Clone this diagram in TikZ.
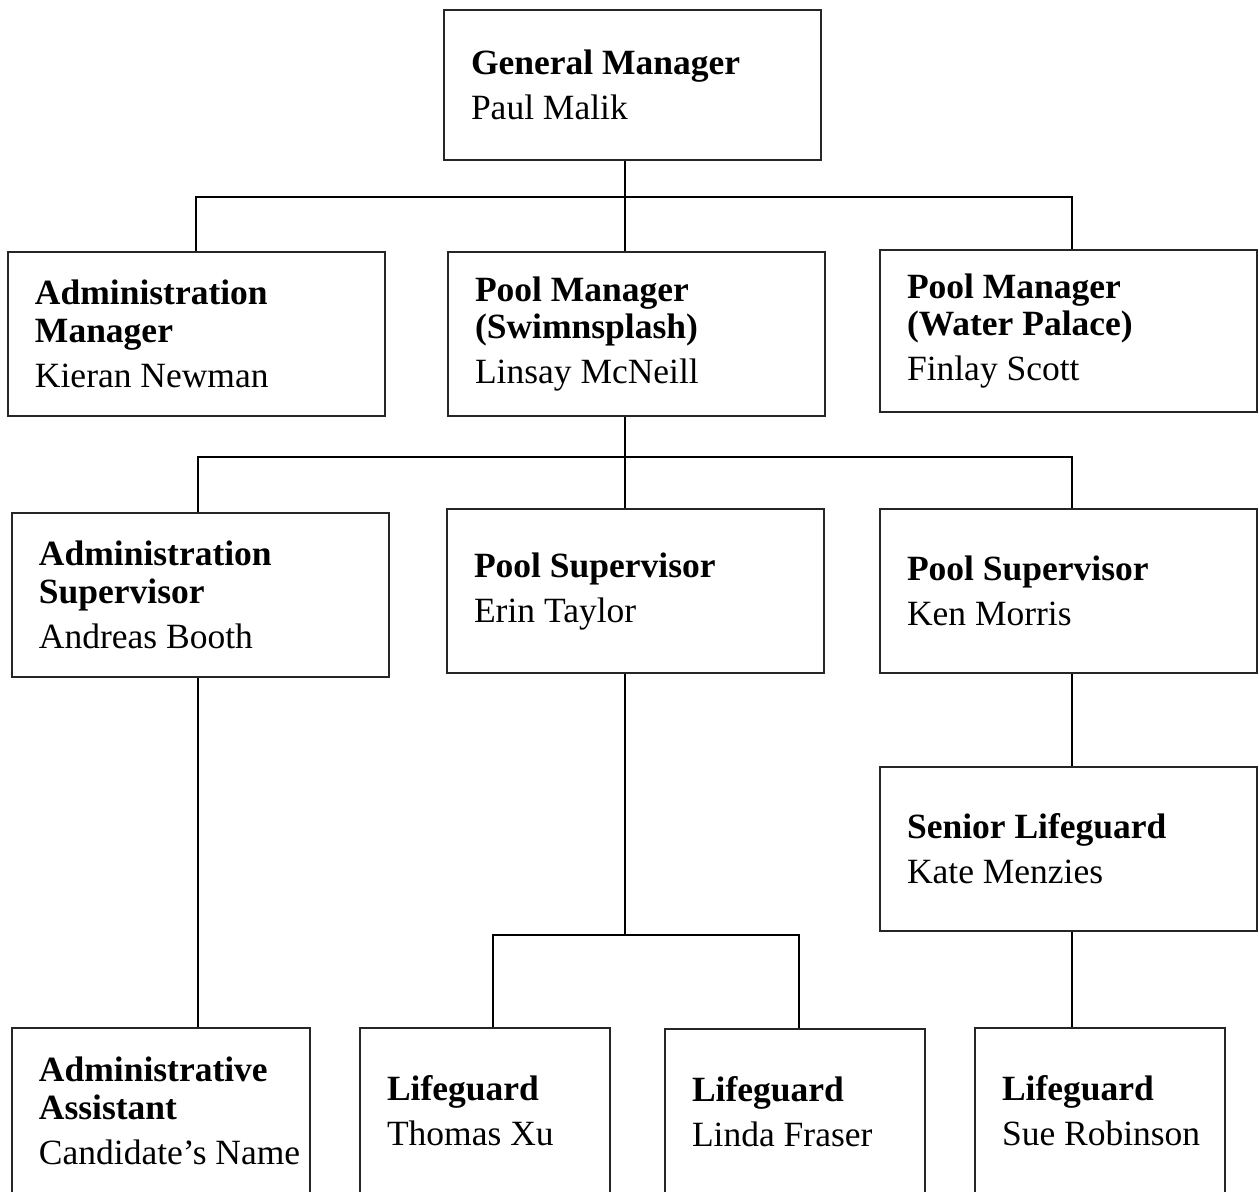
\documentclass[tikz,border=0pt]{standalone}
\usepackage{fontspec}
\setmainfont{Liberation Serif}
\usepackage{tikz}

\begin{document}
\begin{tikzpicture}[
  pbox/.style={draw=black!85, line width=0.45pt, rectangle, minimum height=1.64cm,
    inner xsep=0.27cm, inner ysep=0pt, text width=#1, align=flush left,
    font=\fontsize{10.1}{10.8}\selectfont},
  pbox/.default=3.23cm,
  link/.style={line width=0.75pt}
]
  \useasboundingbox (0,0) rectangle (12.59,-11.91);

  % Staff boxes
  \node[pbox, minimum height=1.50cm] (gm) at (6.325,-0.85) {\textbf{General Manager}\\[2pt]Paul Malik};

  \node[pbox] (admgr) at (1.965,-3.34) {\textbf{Administration}\\\textbf{Manager}\\[2pt]Kieran Newman};
  \node[pbox] (pmswim) at (6.365,-3.34) {\textbf{Pool Manager}\\\textbf{(Swimnsplash)}\\[2pt]Linsay McNeill};
  \node[pbox, minimum height=1.62cm] (pmwater) at (10.685,-3.31) {\textbf{Pool Manager}\\\textbf{(Water Palace)}\\[2pt]Finlay Scott};

  \node[pbox] (adsup) at (2.005,-5.95) {\textbf{Administration}\\\textbf{Supervisor}\\[2pt]Andreas Booth};
  \node[pbox] (pserin) at (6.355,-5.91) {\textbf{Pool Supervisor}\\[2pt]Erin Taylor};
  \node[pbox] (psken) at (10.685,-5.91) {\textbf{Pool Supervisor}\\[2pt]Ken Morris};

  \node[pbox] (senlg) at (10.685,-8.49) {\textbf{Senior Lifeguard}\\[2pt]Kate Menzies};

  \node[pbox=2.44cm, minimum height=1.66cm] (adasst) at (1.61,-11.11) {\textbf{Administrative}\\\textbf{Assistant}\\[2pt]\mbox{Candidate’s Name}};
  \node[pbox=1.96cm, minimum height=1.66cm] (lgthomas) at (4.85,-11.11) {\textbf{Lifeguard}\\[2pt]\mbox{Thomas Xu}};
  \node[pbox=2.06cm, minimum height=1.66cm] (lglinda) at (7.95,-11.12) {\textbf{Lifeguard}\\[2pt]\mbox{Linda Fraser}};
  \node[pbox=1.96cm, minimum height=1.66cm] (lgsue) at (11.00,-11.11) {\textbf{Lifeguard}\\[2pt]\mbox{Sue Robinson}};

  % Bus junctions
  \coordinate (j1a) at (1.96,-1.97);
  \coordinate (j1b) at (6.25,-1.97);
  \coordinate (j1c) at (10.72,-1.97);
  \coordinate (j2a) at (1.98,-4.57);
  \coordinate (j2b) at (6.25,-4.57);
  \coordinate (j2c) at (10.72,-4.57);
  \coordinate (j3a) at (4.93,-9.35);
  \coordinate (j3b) at (6.25,-9.35);
  \coordinate (j3c) at (7.99,-9.35);

  % Connectors
  \draw[link] (j1a |- admgr.north) -- (j1a) -- (j1c) -- (j1c |- pmwater.north);
  \draw[link] (j1b |- gm.south) -- (j1b |- pmswim.north);

  \draw[link] (j2a |- adsup.north) -- (j2a) -- (j2c) -- (j2c |- psken.north);
  \draw[link] (j2b |- pmswim.south) -- (j2b |- pserin.north);

  \draw[link] (j2a |- adsup.south) -- (j2a |- adasst.north);

  \draw[link] (j3b |- pserin.south) -- (j3b);
  \draw[link] (j3a |- lgthomas.north) -- (j3a) -- (j3c) -- (j3c |- lglinda.north);

  \draw[link] (j2c |- psken.south) -- (j2c |- senlg.north);
  \draw[link] (j2c |- senlg.south) -- (j2c |- lgsue.north);
\end{tikzpicture}
\end{document}
